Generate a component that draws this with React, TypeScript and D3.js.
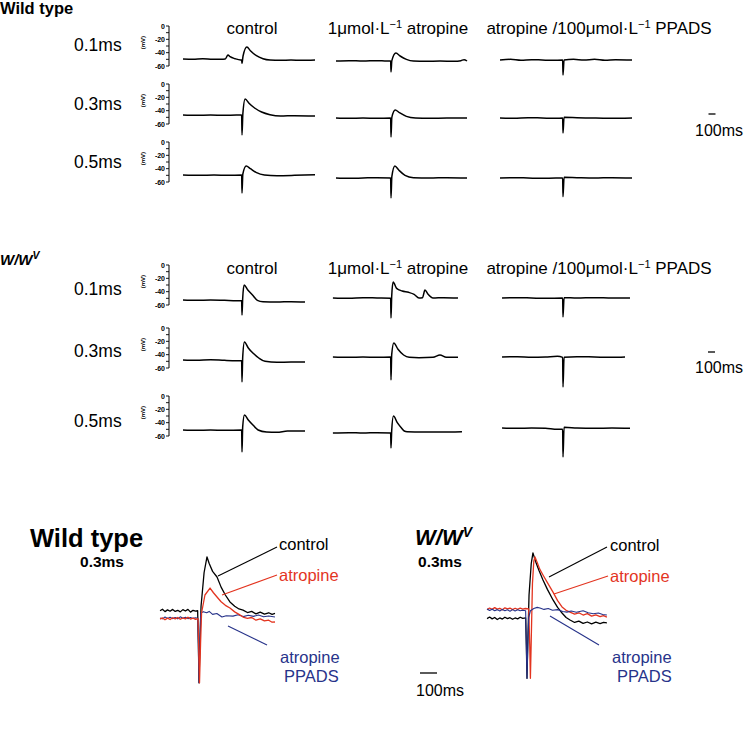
import React from "react";
import * as d3 from "d3";

type Pt = [number, number]; // [ms from stimulus, mV]

// ---------- labels ----------
const columnHeads = [
  { pre: "control", sup: "", post: "" },
  { pre: "1μmol·L", sup: "−1", post: " atropine" },
  { pre: "atropine /100μmol·L", sup: "−1", post: " PPADS" },
];
const stimLabels = ["0.1ms", "0.3ms", "0.5ms"];
const mvTicks = [0, -10, -20, -30, -40, -50, -60];
const mvLabelled = [0, -20, -40, -60];

// ---------- Wild type traces (rows: 0.1, 0.3, 0.5 ms) ----------
const wtControl01: Pt[] = [[-843,-49.5],[-700,-50],[-560,-49],[-420,-50],[-300,-50],[-240,-49.5],[-200,-43.5],[-170,-46],[-100,-49],[-20,-51],[-5,-51],[0,-56],[15,-45],[70,-31.5],[120,-37],[200,-44],[300,-49],[400,-51],[550,-51.5],[700,-51],[850,-51.5],[1043,-51]];
const wtAtropine01: Pt[] = [[-786,-52.5],[-600,-52],[-400,-52.5],[-200,-52],[-60,-52.5],[-5,-52.5],[0,-69],[12,-52],[70,-40.5],[130,-45],[220,-50],[320,-52.5],[500,-53],[700,-52.5],[900,-53],[1000,-52],[1043,-50.5],[1086,-52.5]];
const wtPpads01: Pt[] = [[-900,-51],[-750,-50],[-600,-51.5],[-450,-50.5],[-300,-51],[-150,-51.5],[-5,-51],[0,-73.5],[15,-51],[150,-50],[300,-51],[450,-50],[600,-51.5],[750,-50.5],[986,-51]];

const wtControl03: Pt[] = [[-843,-46.5],[-650,-47],[-450,-46.5],[-250,-47],[-80,-46.5],[-5,-46.5],[0,-76.5],[12,-45],[45,-22.5],[100,-29],[180,-36],[280,-42],[400,-46],[550,-48],[750,-47.5],[1043,-48]];
const wtAtropine03: Pt[] = [[-786,-51],[-600,-51.5],[-400,-51],[-200,-51.5],[-5,-51],[0,-79.5],[12,-50],[60,-39],[120,-43],[220,-48.5],[350,-51],[550,-51.5],[800,-51],[1086,-51]];
const wtPpads03: Pt[] = [[-900,-51],[-700,-51.5],[-500,-50.5],[-300,-51],[-100,-51.5],[-5,-51],[0,-73.5],[15,-50],[200,-50.5],[400,-51],[650,-51.5],[986,-51]];

const wtControl05: Pt[] = [[-843,-49.5],[-600,-50],[-400,-49.5],[-200,-50],[-5,-49.5],[0,-76.5],[12,-48],[60,-36],[120,-40],[200,-45.5],[320,-49.5],[500,-50.5],[750,-50],[1043,-49]];
const wtAtropine05: Pt[] = [[-786,-54],[-600,-54.5],[-400,-54],[-200,-53.5],[-5,-54],[0,-84],[12,-52],[55,-36],[110,-42],[200,-50],[320,-53.5],[550,-54],[800,-53.5],[1086,-54]];
const wtPpads05: Pt[] = [[-900,-54],[-700,-53.5],[-500,-54],[-300,-54.5],[-100,-54],[-5,-54],[0,-82],[15,-53],[200,-53.5],[450,-54],[700,-53.5],[986,-54]];

// ---------- W/Wv traces ----------
const wvControl01: Pt[] = [[-843,-52.5],[-650,-53],[-450,-52.5],[-250,-53],[-80,-53.5],[-5,-53.5],[0,-75],[10,-50],[30,-30],[80,-37],[150,-45],[220,-53],[300,-55],[500,-55.5],[700,-55],[900,-55.5]];
const wvAtropine01: Pt[] = [[-830,-49.5],[-600,-50],[-400,-49],[-200,-49.5],[-5,-50],[0,-79.5],[10,-47],[30,-25.5],[80,-35],[160,-39],[250,-41],[330,-44],[400,-49.5],[450,-49],[485,-37.5],[530,-44],[600,-49.5],[750,-49],[957,-49.5]];
const wvPpads01: Pt[] = [[-871,-49.5],[-650,-49],[-450,-49.5],[-250,-50],[-5,-49.5],[0,-78],[15,-49],[200,-49.5],[450,-49],[700,-49.5],[957,-49.5]];

const wvControl03: Pt[] = [[-843,-48],[-650,-48.5],[-450,-47.5],[-250,-48.5],[-80,-49],[-5,-49],[0,-81],[10,-44],[35,-21],[90,-30],[160,-38],[240,-45],[330,-50],[500,-51.5],[700,-51],[900,-51]];
const wvAtropine03: Pt[] = [[-830,-43.5],[-600,-44],[-400,-43.5],[-200,-44],[-5,-43.5],[0,-78],[10,-40],[40,-22.5],[100,-32],[180,-40.5],[260,-44],[400,-44.5],[600,-44],[700,-40.5],[790,-44],[957,-44]];
const wvPpads03: Pt[] = [[-871,-43.5],[-650,-43],[-450,-44],[-250,-43.5],[-80,-42.5],[-5,-44],[0,-88.5],[15,-44],[200,-43],[450,-43.5],[700,-44],[886,-43.5]];

const wvControl05: Pt[] = [[-843,-51],[-650,-51.5],[-450,-51],[-250,-51.5],[-5,-51],[0,-84],[10,-46],[35,-28.5],[90,-36],[160,-44],[230,-51],[350,-54],[500,-54.5],[650,-52.5],[900,-52.5]];
const wvAtropine05: Pt[] = [[-830,-55.5],[-600,-55],[-400,-55.5],[-200,-55],[-5,-55.5],[0,-78],[10,-52],[35,-30],[90,-40],[150,-48],[190,-52.5],[230,-53.5],[450,-54],[700,-54],[1014,-53.5]];
const wvPpads05: Pt[] = [[-871,-48],[-650,-48.5],[-450,-48],[-250,-48.5],[-80,-50],[-5,-50],[0,-91.5],[15,-47],[200,-48],[450,-48.5],[700,-48],[957,-48.5]];

// ---------- overlays at 0.3 ms ----------
const ovWtControl: Pt[] = [[-229,-47],[-215,-46.3],[-200,-47.4],[-185,-46.6],[-170,-47.2],[-155,-46.4],[-140,-47.3],[-125,-46.8],[-110,-47.5],[-95,-46.5],[-80,-47.1],[-65,-46.4],[-50,-47.6],[-35,-46.8],[-20,-47.2],[-8,-47],[-4,-60],[0,-79],[6,-60],[12,-45],[30,-30],[47,-23.1],[60,-26],[80,-29.5],[106,-32],[130,-36.5],[155,-40],[182,-43.1],[210,-45],[235,-46.2],[259,-46.7],[285,-47.8],[310,-47.3],[335,-48.4],[360,-47.6],[385,-48.5],[410,-47.9],[430,-48.6],[447,-48.2]];
const ovWtAtropine: Pt[] = [[-229,-50.7],[-215,-50.2],[-200,-51],[-185,-50.3],[-170,-50.9],[-155,-50.1],[-140,-50.6],[-125,-50],[-110,-50.8],[-95,-50.2],[-80,-50.6],[-65,-49.9],[-50,-50.7],[-35,-50.3],[-20,-50.8],[-6,-50.5],[-2,-62],[3,-79],[9,-62],[15,-48],[35,-40],[65,-36.9],[85,-39],[106,-40.9],[130,-43],[155,-44.6],[182,-45.8],[210,-47.5],[235,-48.6],[259,-49.8],[285,-50.4],[310,-50],[335,-51.2],[360,-50.6],[385,-51.5],[410,-51.2],[430,-52.1],[447,-52]];
const ovWtPpads: Pt[] = [[-229,-50.2],[-215,-50.6],[-200,-49.8],[-185,-50.4],[-170,-49.9],[-155,-50.5],[-140,-50],[-125,-50.6],[-110,-49.7],[-95,-50.3],[-80,-49.9],[-65,-50.5],[-50,-50],[-35,-50.4],[-20,-50.1],[-8,-50.3],[-4,-62],[0,-79],[5,-60],[10,-48],[25,-47.4],[45,-47.9],[60,-47.3],[80,-48.6],[105,-48.2],[135,-49.8],[160,-49.2],[200,-49.4],[230,-48.8],[260,-49.6],[290,-49],[320,-49.5],[350,-48.9],[380,-49.7],[410,-49.3],[447,-49.8]];

const ovWvControl: Pt[] = [[-235,-50.5],[-220,-49.8],[-205,-50.6],[-190,-50],[-175,-50.9],[-160,-50.2],[-145,-50.7],[-130,-49.9],[-115,-50.5],[-100,-50.1],[-85,-50.8],[-70,-50.2],[-55,-50.6],[-40,-49.9],[-25,-50.4],[-8,-50.2],[-4,-62],[0,-77],[5,-60],[12,-40],[25,-26],[35,-21.3],[50,-25],[70,-29],[94,-33.3],[120,-37.5],[153,-42.2],[180,-45.5],[206,-48],[230,-50],[253,-51.1],[280,-52.2],[305,-51.6],[330,-52.6],[355,-52],[380,-52.8],[405,-52.1],[430,-52.7],[450,-52.2],[470,-52.4]];
const ovWvAtropine: Pt[] = [[-235,-46.5],[-220,-45.8],[-205,-46.4],[-190,-45.6],[-175,-46.3],[-160,-45.9],[-145,-46.6],[-130,-45.7],[-115,-46.2],[-100,-45.8],[-85,-46.5],[-70,-45.9],[-55,-46.4],[-40,-45.8],[-25,-46.3],[-10,-46],[10,-46.2],[16,-62],[20,-77],[25,-60],[32,-35],[40,-25],[47,-23.1],[60,-25.5],[75,-28.5],[94,-31.1],[120,-34.5],[153,-38.7],[180,-42.5],[206,-45.3],[230,-46.8],[253,-47.6],[280,-48.5],[305,-47.9],[330,-48.9],[355,-48.3],[380,-49.4],[405,-48.8],[430,-49.6],[450,-49.2],[470,-49.8]];
const ovWvPpads: Pt[] = [[-235,-46.2],[-220,-46.9],[-205,-46.3],[-190,-47],[-175,-46.5],[-160,-47.1],[-145,-46.4],[-130,-47],[-115,-46.6],[-100,-47.2],[-85,-46.5],[-70,-47.1],[-55,-46.6],[-40,-47],[-25,-46.8],[-8,-47],[-4,-62],[0,-77],[5,-62],[10,-50],[20,-47],[40,-46],[60,-45.5],[76,-45.8],[100,-46.4],[125,-46],[150,-46.8],[180,-46.5],[210,-47.3],[235,-47.6],[260,-47.1],[290,-47.7],[330,-47],[360,-47.9],[390,-48.3],[420,-48],[445,-48.7],[470,-48.9]];

const wtRows = [
  [wtControl01, wtAtropine01, wtPpads01],
  [wtControl03, wtAtropine03, wtPpads03],
  [wtControl05, wtAtropine05, wtPpads05],
];
const wvRows = [
  [wvControl01, wvAtropine01, wvPpads01],
  [wvControl03, wvAtropine03, wvPpads03],
  [wvControl05, wvAtropine05, wvPpads05],
];

// ---------- layout ----------
const W = 750;
const H = 729;
const FONT = "Liberation Sans, Arial, Helvetica, sans-serif";
const RED = "#e3341f";
const BLUE = "#27338a";
const colStim = [242, 391, 563];
const headX = [252, 398, 599];
const axisX = 169;
const msPx = 0.07; // px per ms in upper grid
const mvPx = 40 / 60; // px per mV in upper grid

function Section({ rowsY, traces, headY, labelY }: { rowsY: number[]; traces: Pt[][][]; headY: number; labelY: number[] }) {
  return (
    <g>
      {columnHeads.map((h, i) => (
        <text key={i} x={headX[i]} y={headY} textAnchor="middle" fontSize={17} fontFamily={FONT}>
          {h.pre}
          {h.sup && <tspan dy={-6} fontSize={11}>{h.sup}</tspan>}
          {h.post && <tspan dy={h.sup ? 6 : 0}>{h.post}</tspan>}
        </text>
      ))}
      {rowsY.map((y0, r) => {
        const y = d3.scaleLinear().domain([0, -60]).range([y0, y0 + 60 * mvPx]);
        return (
          <g key={r}>
            <text x={74} y={labelY[r]} fontSize={17.5} fontFamily={FONT}>{stimLabels[r]}</text>
            <line x1={axisX} x2={axisX} y1={y(0)} y2={y(-60)} stroke="#000" strokeWidth={1} />
            {mvTicks.map(t => (
              <line key={t} x1={axisX - 3} x2={axisX} y1={y(t)} y2={y(t)} stroke="#000" strokeWidth={0.9} />
            ))}
            {mvLabelled.map(t => (
              <text key={t} x={axisX - 4} y={y(t) + 2.5} textAnchor="end" fontSize={7} fontWeight="bold" fontFamily={FONT}>{t}</text>
            ))}
            <text transform={`translate(145,${y(-25)}) rotate(-90)`} textAnchor="middle" fontSize={6} fontWeight="bold" fontFamily={FONT}>(mV)</text>
            {traces[r].map((tr, c) => {
              const x = d3.scaleLinear().domain([0, 1]).range([colStim[c], colStim[c] + msPx]);
              const line = d3.line<Pt>().x(d => x(d[0])).y(d => y(d[1])).curve(d3.curveMonotoneX);
              return <path key={c} d={line(tr) || ""} fill="none" stroke="#000" strokeWidth={1.5} strokeLinejoin="round" />;
            })}
          </g>
        );
      })}
    </g>
  );
}

function ScaleBar({ x, y, pxPer100, textY, textX }: { x: number; y: number; pxPer100: number; textY: number; textX: number }) {
  return (
    <g>
      <line x1={x} x2={x + pxPer100} y1={y} y2={y} stroke="#000" strokeWidth={1.3} />
      <text x={textX} y={textY} textAnchor="middle" fontSize={16} fontFamily={FONT}>100ms</text>
    </g>
  );
}

type Overlay = { stim: number; series: { data: Pt[]; color: string; w: number }[] };

function OverlayPanel({ stim, series }: Overlay) {
  const x = d3.scaleLinear().domain([0, 100]).range([stim, stim + 17]);
  const y = d3.scaleLinear().domain([0, -80]).range([505, 685]);
  const line = d3.line<Pt>().x(d => x(d[0])).y(d => y(d[1]));
  return (
    <g>
      {series.map((s, i) => (
        <path key={i} d={line(s.data) || ""} fill="none" stroke={s.color} strokeWidth={s.w} strokeLinejoin="round" />
      ))}
    </g>
  );
}

function Callouts({ pts }: { pts: { from: [number, number]; to: [number, number]; color: string }[] }) {
  return (
    <g>
      {pts.map((p, i) => (
        <line key={i} x1={p.from[0]} y1={p.from[1]} x2={p.to[0]} y2={p.to[1]} stroke={p.color} strokeWidth={1.1} />
      ))}
    </g>
  );
}

export default function App() {
  return (
    <svg width={W} height={H} style={{ position: "absolute", left: 0, top: 0, background: "#fff" }}>
      <rect width={W} height={H} fill="#fff" />
      {/* upper grid: wild type */}
      <text x={0} y={14} fontSize={16.5} fontWeight="bold" fontFamily={FONT}>Wild type</text>
      <Section rowsY={[26, 84, 142]} traces={wtRows} headY={34} labelY={[51, 110, 168]} />
      <ScaleBar x={708.5} y={114} pxPer100={100 * msPx} textX={719} textY={136} />

      {/* upper grid: W/Wv */}
      <text x={0} y={265} fontSize={15} fontWeight="bold" fontStyle="italic" fontFamily={FONT}>
        W/W<tspan dy={-6} fontSize={10.5}>V</tspan>
      </text>
      <Section rowsY={[265, 328, 396]} traces={wvRows} headY={274} labelY={[295, 357, 427]} />
      <ScaleBar x={708} y={352} pxPer100={100 * msPx} textX={719} textY={373} />

      {/* lower overlays */}
      <text x={30} y={547} fontSize={25.5} fontWeight="bold" fontFamily={FONT}>Wild type</text>
      <text x={102} y={567} textAnchor="middle" fontSize={15.5} fontWeight="bold" fontFamily={FONT}>0.3ms</text>
      <OverlayPanel stim={199} series={[
        { data: ovWtControl, color: "#000", w: 1.3 },
        { data: ovWtPpads, color: BLUE, w: 1.1 },
        { data: ovWtAtropine, color: RED, w: 1.3 },
      ]} />
      <Callouts pts={[
        { from: [218, 576], to: [277, 547], color: "#000" },
        { from: [222, 595], to: [277, 575], color: RED },
        { from: [228, 626], to: [267, 645], color: BLUE },
      ]} />
      <text x={279} y={550} fontSize={16.5} fontFamily={FONT}>control</text>
      <text x={279} y={581} fontSize={16.5} fontFamily={FONT} fill={RED}>atropine</text>
      <text x={280} y={663} fontSize={16.5} fontFamily={FONT} fill={BLUE}>atropine</text>
      <text x={284} y={682} fontSize={16.5} fontFamily={FONT} fill={BLUE}>PPADS</text>

      <text x={415} y={545} fontSize={22} fontWeight="bold" fontStyle="italic" fontFamily={FONT}>
        W/W<tspan dy={-8} fontSize={14}>V</tspan>
      </text>
      <text x={440} y={567} textAnchor="middle" fontSize={15.5} fontWeight="bold" fontFamily={FONT}>0.3ms</text>
      <OverlayPanel stim={527} series={[
        { data: ovWvControl, color: "#000", w: 1.3 },
        { data: ovWvAtropine, color: RED, w: 1.3 },
        { data: ovWvPpads, color: BLUE, w: 1.1 },
      ]} />
      <Callouts pts={[
        { from: [549, 577], to: [607, 547], color: "#000" },
        { from: [554, 594], to: [608, 576], color: RED },
        { from: [550, 616], to: [599, 645], color: BLUE },
      ]} />
      <text x={610} y={551} fontSize={16.5} fontFamily={FONT}>control</text>
      <text x={610} y={582} fontSize={16.5} fontFamily={FONT} fill={RED}>atropine</text>
      <text x={612} y={663} fontSize={16.5} fontFamily={FONT} fill={BLUE}>atropine</text>
      <text x={617} y={682} fontSize={16.5} fontFamily={FONT} fill={BLUE}>PPADS</text>
      <ScaleBar x={420} y={673} pxPer100={17} textX={440} textY={696} />
    </svg>
  );
}
